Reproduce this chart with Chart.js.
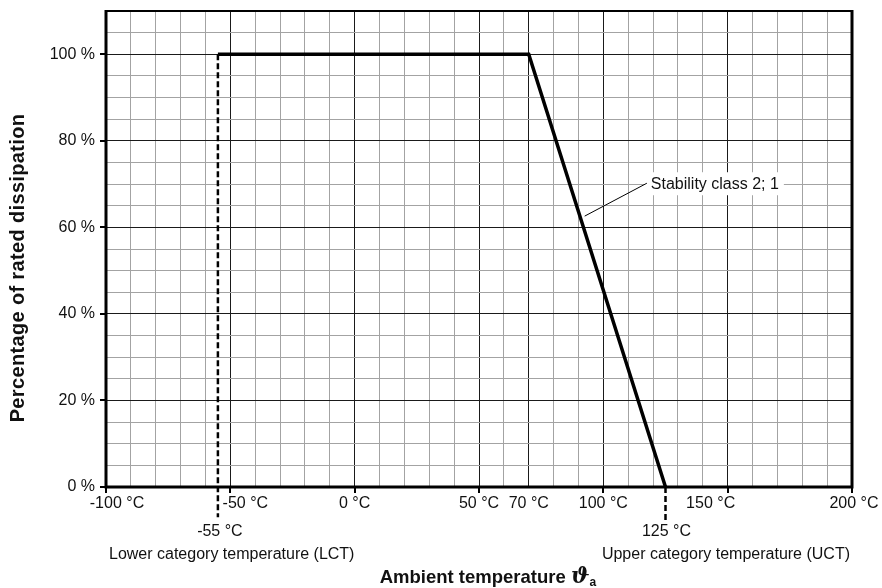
<!DOCTYPE html>
<html>
<head>
<meta charset="utf-8">
<script src="https://cdn.jsdelivr.net/npm/chart.js@4.4.1/dist/chart.umd.min.js"></script>
<style>
  html, body { margin: 0; padding: 0; background: #fff; }
  #wrap { width: 882px; height: 588px; position: relative; }
</style>
</head>
<body>
<div id="wrap"><canvas id="c" width="882" height="588"></canvas></div>
<script>
// ---- data ----
const tempTicks = [-100, -50, 0, 50, 70, 100, 150, 200];   // labelled x ticks (°C)
const majorTemps = [-50, 0, 50, 70, 100, 150];              // dark vertical grid lines
const pctTicks = [0, 20, 40, 60, 80, 100];                  // labelled y ticks (%)
const curveTemps = [-55, 70, 125];                          // derating curve (°C)
const curvePct = [100, 100, 0];                             // derating curve (%)
const lctTemp = -55;                                        // lower category temperature
const uctTemp = 125;                                        // upper category temperature
const lctLabel = 'Lower category temperature (LCT)';
const uctLabel = 'Upper category temperature (UCT)';
const curveLabel = 'Stability class 2; 1';
const xTitle = 'Ambient temperature ';
const yTitle = 'Percentage of rated dissipation';

const FONT = '"Liberation Sans", Arial, sans-serif';

const curveData = curveTemps.map((t, i) => ({ x: t, y: curvePct[i] }));
const lctData = [{ x: lctTemp, y: 100 }, { x: lctTemp, y: -7 }];
const uctData = [{ x: uctTemp, y: 0 }, { x: uctTemp, y: -7.6 }];

function gridColor(majors) {
  return (ctx) => {
    const v = ctx.tick ? ctx.tick.value : null;
    return majors.includes(v) ? '#1a1a1a' : '#a3a3a3';
  };
}

const decor = {
  id: 'decor',
  afterDatasetsDraw(chart) {
    const { ctx, chartArea: a, scales: { x, y } } = chart;
    ctx.save();
    // frame
    ctx.strokeStyle = '#000';
    ctx.lineWidth = 2;
    ctx.beginPath();
    ctx.moveTo(a.left, a.top); ctx.lineTo(a.right, a.top);
    ctx.stroke();
    ctx.lineWidth = 3;
    ctx.beginPath();
    ctx.moveTo(a.left, a.top - 1); ctx.lineTo(a.left, a.bottom);
    ctx.moveTo(a.left - 1.5, a.bottom); ctx.lineTo(a.right + 1.5, a.bottom);
    ctx.moveTo(a.right, a.top - 1); ctx.lineTo(a.right, a.bottom);
    ctx.stroke();

    // tick marks
    ctx.lineWidth = 2;
    ctx.beginPath();
    pctTicks.forEach(v => {
      const py = Math.round(y.getPixelForValue(v));
      ctx.moveTo(a.left - 6, py); ctx.lineTo(a.left, py);
    });
    tempTicks.filter(v => v % 50 === 0).forEach(v => {
      const px = Math.round(x.getPixelForValue(v));
      ctx.moveTo(px, a.bottom); ctx.lineTo(px, a.bottom + 6);
    });
    ctx.stroke();

    // y tick labels
    ctx.fillStyle = '#111';
    ctx.font = '16px ' + FONT;
    ctx.textAlign = 'right';
    ctx.textBaseline = 'middle';
    pctTicks.forEach(v => {
      ctx.fillText(v + ' %', a.left - 11, y.getPixelForValue(v));
    });

    // x tick labels (some nudged sideways, as in the reference)
    const nudge = { '-100': 11, '-50': 15, '150': -17, '200': 2 };
    ctx.textAlign = 'center';
    tempTicks.forEach(v => {
      ctx.fillText(v + ' °C', x.getPixelForValue(v) + (nudge[v] || 0), a.bottom + 17);
    });
    ctx.fillText(lctTemp + ' °C', x.getPixelForValue(lctTemp) + 2, a.bottom + 45);
    ctx.fillText(uctTemp + ' °C', x.getPixelForValue(uctTemp) + 1, a.bottom + 45);

    ctx.textAlign = 'left';
    ctx.fillText(lctLabel, a.left + 3, a.bottom + 68);
    ctx.textAlign = 'right';
    ctx.fillText(uctLabel, a.right - 2, a.bottom + 68);

    // x title
    ctx.font = 'bold 18.5px ' + FONT;
    const w1 = ctx.measureText(xTitle).width;
    ctx.font = 'bold italic 22px "DejaVu Serif", serif';
    const w2 = ctx.measureText('\u03D1').width;
    ctx.font = 'bold 12px ' + FONT;
    const w3 = ctx.measureText('a').width;
    const total = w1 + w2 + w3;
    let sx = 488 - total / 2;
    const by = 583;
    ctx.textAlign = 'left';
    ctx.textBaseline = 'alphabetic';
    ctx.font = 'bold 18.5px ' + FONT;
    ctx.fillText(xTitle, sx, by);
    ctx.font = 'bold italic 22px "DejaVu Serif", serif';
    ctx.fillText('\u03D1', sx + w1, by);
    ctx.font = 'bold 12px ' + FONT;
    ctx.fillText('a', sx + w1 + w2, by + 3);

    // y title
    ctx.save();
    ctx.translate(18, 268);
    ctx.rotate(-Math.PI / 2);
    ctx.font = 'bold 20px ' + FONT;
    ctx.letterSpacing = '0.35px';
    ctx.textAlign = 'center';
    ctx.textBaseline = 'middle';
    ctx.fillText(yTitle, 0, 0);
    ctx.restore();

    // annotation with leader
    const tx = x.getPixelForValue(117.5), ty = y.getPixelForValue(70.2);
    const lx = x.getPixelForValue(92.5), ly = y.getPixelForValue(62.6);
    ctx.fillStyle = '#fff';
    ctx.fillRect(tx - 2, ty - 11, 139, 23);
    ctx.strokeStyle = '#000';
    ctx.lineWidth = 1;
    ctx.beginPath();
    ctx.moveTo(tx, ty); ctx.lineTo(lx, ly);
    ctx.stroke();
    ctx.fillStyle = '#111';
    ctx.font = '16px ' + FONT;
    ctx.textAlign = 'left';
    ctx.textBaseline = 'middle';
    ctx.fillText(curveLabel, tx + 4, ty + 1);
    ctx.restore();
  }
};

new Chart(document.getElementById('c'), {
  type: 'scatter',
  data: {
    datasets: [
      { data: curveData, showLine: true, borderColor: '#000', borderWidth: 3.5,
        pointRadius: 0, tension: 0, clip: false, order: 1 },
      { data: lctData, showLine: true, borderColor: '#000', borderWidth: 2.5,
        borderDash: [6, 3], pointRadius: 0, clip: false, order: 2 },
      { data: uctData, showLine: true, borderColor: '#000', borderWidth: 2.5,
        borderDash: [6, 3], pointRadius: 0, clip: false, order: 2 }
    ]
  },
  options: {
    responsive: false,
    animation: false,
    devicePixelRatio: 1,
    layout: { padding: { left: 106, right: 30, top: 11, bottom: 101 } },
    plugins: { legend: { display: false }, tooltip: { enabled: false } },
    scales: {
      x: {
        type: 'linear', min: -100, max: 200,
        ticks: { stepSize: 10, display: false },
        grid: { color: gridColor(majorTemps), lineWidth: 1, drawTicks: false },
        border: { display: false }
      },
      y: {
        type: 'linear', min: 0, max: 110,
        ticks: { stepSize: 5, display: false },
        grid: { color: gridColor([20, 40, 60, 80, 100]), lineWidth: 1, drawTicks: false },
        border: { display: false }
      }
    }
  },
  plugins: [decor]
});
</script>
</body>
</html>
